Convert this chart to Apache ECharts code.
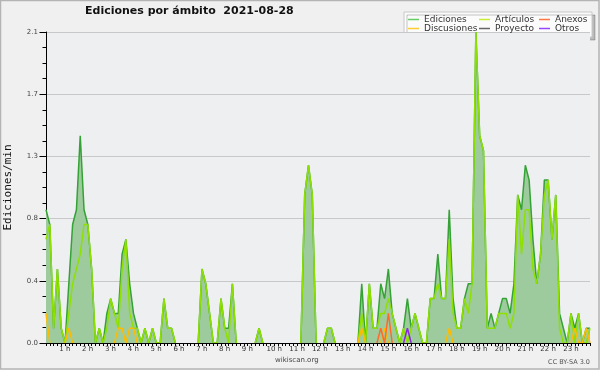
<!DOCTYPE html>
<html><head><meta charset="utf-8">
<script src="https://cdn.jsdelivr.net/npm/echarts@6/dist/echarts.min.js"></script>
<style>html,body{margin:0;padding:0;background:#f0f0f0}#c{width:600px;height:370px}</style>
</head><body><div id="c"></div>
<script>
const chartTitle = 'Ediciones por ámbito  2021-08-28';
const hourTicks = ['0 h','1 h','2 h','3 h','4 h','5 h','6 h','7 h','8 h','9 h','10 h','11 h','12 h','13 h','14 h','15 h','16 h','17 h','18 h','19 h','20 h','21 h','22 h','23 h'];
const slotTimes = [];
for (let h = 0; h < 24; h++) { for (let m = 0; m < 60; m += 10) { slotTimes.push(h + ':' + (m < 10 ? '0' + m : m)); } }

// one value per 10 minutes, edits per minute
const ediciones = [
 0.9,0.8,0.1,0.5,0.1,0,
 0.4,0.8,0.9,1.4,0.9,0.8,
 0.5,0,0.1,0,0.2,0.3,
 0.2,0.2,0.6,0.7,0.4,0.2,
 0.1,0,0.1,0,0.1,0,
 0,0.3,0.1,0.1,0,0,
 0,0,0,0,0,0.5,
 0.4,0.2,0,0,0.3,0.1,
 0.1,0.4,0,0,0,0,
 0,0,0.1,0,0,0,
 0,0,0,0,0,0,
 0,0,1.0,1.2,1.0,0,
 0,0,0.1,0.1,0,0,
 0,0,0,0,0,0.4,
 0,0.4,0.1,0.1,0.4,0.3,
 0.5,0.2,0.1,0,0.1,0.3,
 0.1,0.2,0.1,0,0,0.3,
 0.3,0.6,0.3,0.3,0.9,0.3,
 0.1,0.1,0.3,0.4,0.4,2.1,
 1.4,1.3,0.1,0.2,0.1,0.2,
 0.3,0.3,0.2,0.4,1.0,0.9,
 1.2,1.1,0.7,0.4,0.6,1.1,
 1.1,0.7,1.0,0.2,0.1,0,
 0.2,0.1,0.2,0,0.1,0.1
];
const articulos = [
 0.7,0.8,0.1,0.5,0.1,0,
 0.2,0.4,0.5,0.6,0.8,0.8,
 0.5,0,0.1,0,0.1,0.3,
 0.2,0.1,0.5,0.7,0.2,0.1,
 0.1,0,0.1,0,0.1,0,
 0,0.3,0.1,0.1,0,0,
 0,0,0,0,0,0.5,
 0.4,0.2,0,0,0.3,0.1,
 0,0.4,0,0,0,0,
 0,0,0.1,0,0,0,
 0,0,0,0,0,0,
 0,0,1.0,1.2,1.0,0,
 0,0,0.1,0.1,0,0,
 0,0,0,0,0,0.2,
 0,0.4,0.1,0.1,0.2,0.2,
 0.3,0.2,0.1,0,0.1,0,
 0.1,0.2,0.1,0,0,0.3,
 0.3,0.4,0.3,0.3,0.7,0.2,
 0.1,0.1,0.3,0.2,0.4,2.1,
 1.4,1.3,0.1,0.1,0.1,0.2,
 0.2,0.2,0.1,0.2,1.0,0.6,
 0.9,0.9,0.5,0.4,0.6,1.0,
 1.1,0.7,1.0,0.1,0,0,
 0.2,0,0.2,0,0,0.1
];
const discusiones = [
 0.2,0,0,0,0,0,
 0.1,0,0,0,0,0,
 0,0,0,0,0,0,
 0,0.1,0.1,0,0.1,0.1,
 0,0,0,0,0,0,
 0,0,0,0,0,0,
 0,0,0,0,0,0,
 0,0,0,0,0,0,
 0,0,0,0,0,0,
 0,0,0,0,0,0,
 0,0,0,0,0,0,
 0,0,0,0,0,0,
 0,0,0,0,0,0,
 0,0,0,0,0,0.1,
 0,0,0,0,0,0.1,
 0,0,0,0,0,0,
 0,0,0,0,0,0,
 0,0,0,0,0.1,0,
 0,0,0,0,0,0,
 0,0,0,0,0,0,
 0,0,0,0,0,0,
 0,0,0,0,0,0,
 0,0,0,0,0,0,
 0,0.1,0,0,0.1,0
];
const anexos = [
 0,0,0,0,0,0, 0,0,0,0,0,0, 0,0,0,0,0,0, 0,0,0,0,0,0,
 0,0,0,0,0,0, 0,0,0,0,0,0, 0,0,0,0,0,0, 0,0,0,0,0,0,
 0,0,0,0,0,0, 0,0,0,0,0,0, 0,0,0,0,0,0, 0,0,0,0,0,0,
 0,0,0,0,0,0, 0,0,0,0,0,0,
 0,0,0,0,0.1,0,
 0.2,0,0,0,0,0,
 0,0,0,0,0,0, 0,0,0,0,0,0, 0,0,0,0,0,0, 0,0,0,0,0,0,
 0,0,0,0,0,0, 0,0,0,0,0,0, 0,0,0,0,0,0, 0,0,0,0,0,0
];
const proyecto = [
 0,0,0,0,0,0, 0,0,0,0,0,0, 0,0,0,0,0,0, 0,0,0,0,0,0,
 0,0,0,0,0,0, 0,0,0,0,0,0, 0,0,0,0,0,0, 0,0,0,0,0,0,
 0,0,0,0,0,0, 0,0,0,0,0,0, 0,0,0,0,0,0, 0,0,0,0,0,0,
 0,0,0,0,0,0, 0,0,0,0,0,0, 0,0,0,0,0,0, 0,0,0,0,0,0,
 0,0,0,0,0,0, 0,0,0,0,0,0, 0,0,0,0,0,0, 0,0,0,0,0,0,
 0,0,0,0,0,0, 0,0,0,0,0,0, 0,0,0,0,0,0, 0,0,0,0,0,0
];
const otros = [
 0,0,0,0,0,0, 0,0,0,0,0,0, 0,0,0,0,0,0, 0,0,0,0,0,0,
 0,0,0,0,0,0, 0,0,0,0,0,0, 0,0,0,0,0,0, 0,0,0,0,0,0,
 0,0,0,0,0,0, 0,0,0,0,0,0, 0,0,0,0,0,0, 0,0,0,0,0,0,
 0,0,0,0,0,0, 0,0,0,0,0,0, 0,0,0,0,0,0,
 0,0,0,0,0,0.1,
 0,0,0,0,0,0, 0,0,0,0,0,0, 0,0,0,0,0,0, 0,0,0,0,0,0,
 0,0,0,0,0,0, 0,0,0,0,0,0
];

// zero stretches lie on the x axis; leave them out of the drawn path
function forDrawing(values) {
  return values.map(function (v, i) {
    const prev = i > 0 ? values[i - 1] : 0;
    const next = i < values.length - 1 ? values[i + 1] : 0;
    return (v === 0 && prev === 0 && next === 0) ? null : v;
  });
}

function lineSeries(name, data, lineColor, legendColor, extra) {
  return Object.assign({
    name: name, type: 'line', data: forDrawing(data), showSymbol: false, symbol: 'none',
    connectNulls: false,
    lineStyle: { color: lineColor, width: 1.5 }, itemStyle: { color: legendColor },
    animation: false
  }, extra || {});
}

const legendText = { fontFamily: 'DejaVu Sans', fontSize: 9, color: '#333', lineHeight: 9 };
function legendCol(left, names) {
  return { orient: 'vertical', left: left, top: 15, padding: 0, itemGap: 0, itemWidth: 11, itemHeight: 1.5,
    icon: 'rect', selectedMode: false, textStyle: legendText, data: names };
}

const chart = echarts.init(document.getElementById('c'), null, { renderer: 'canvas', width: 600, height: 370 });
chart.setOption({
  animation: false,
  backgroundColor: '#f0f0f0',
  textStyle: { fontFamily: 'DejaVu Sans' },
  title: { text: chartTitle, left: 85, top: 6, padding: 0,
    textStyle: { fontFamily: 'DejaVu Sans', fontWeight: 'bold', fontSize: 11, color: '#111' } },
  legend: [
    legendCol(408, ['Ediciones', 'Discusiones']),
    legendCol(479, ['Artículos', 'Proyecto']),
    legendCol(539, ['Anexos', 'Otros'])
  ],
  grid: { left: 46, right: 10, top: 32, bottom: 27, show: true, backgroundColor: '#edeff1', borderWidth: 0,
    containLabel: false, outerBoundsMode: 'none' },
  xAxis: {
    type: 'category', data: slotTimes, boundaryGap: false, z: 5,
    axisLine: { lineStyle: { color: '#000', width: 1 } },
    axisTick: { interval: 0, length: 3, lineStyle: { color: '#000' } },
    axisLabel: {
      interval: function (idx) { return idx > 0 && idx % 6 === 0; },
      margin: 3, fontSize: 7, color: '#333',
      formatter: function (v, idx) {
        const t = hourTicks[Math.floor(idx / 6)];
        return t.length < 4 ? '{s|' + t + '}' : '{d|' + t + '}';
      },
      rich: {
        s: { fontSize: 7, fontFamily: 'DejaVu Sans', color: '#333', padding: [0, 8, 0, 0] },
        d: { fontSize: 7, fontFamily: 'DejaVu Sans', color: '#333' }
      }
    },
    splitLine: { show: false }
  },
  yAxis: {
    type: 'value', min: 0, max: 2.1, interval: 0.42,
    name: 'Ediciones/min', nameLocation: 'middle', nameGap: 32,
    nameTextStyle: { fontFamily: 'DejaVu Sans Mono', fontSize: 11, color: '#111' },
    axisLine: { show: true, lineStyle: { color: '#000' } },
    axisTick: { show: true, length: 6.5, lineStyle: { color: '#000' } },
    minorTick: { show: true, splitNumber: 4, length: 3.5, lineStyle: { color: '#000' } },
    axisLabel: { fontSize: 7, color: '#444', margin: 8,
      formatter: function (v) { return v.toFixed(1); } },
    splitLine: { lineStyle: { color: '#c8c8c8', width: 1 } }
  },
  series: [
    lineSeries('Ediciones', ediciones, '#34a234', '#66cc66', { areaStyle: { color: '#9dcb9d', opacity: 1 } }),
    lineSeries('Proyecto', proyecto, '#666666', '#666666'),
    lineSeries('Artículos', articulos, '#8ee000', '#c6ee33'),
    lineSeries('Discusiones', discusiones, '#ffbb00', '#ffcc33'),
    lineSeries('Anexos', anexos, '#ff6a2a', '#ff7744'),
    lineSeries('Otros', otros, '#8a2be2', '#9944ff')
  ],
  graphic: [
    { type: 'rect', z: -1, silent: true, shape: { x: 404, y: 12, width: 188, height: 25 },
      style: { fill: '#fbfbfb', stroke: '#c8c8c8', lineWidth: 1, shadowColor: 'rgba(0,0,0,0.22)', shadowOffsetX: 3, shadowOffsetY: 3, shadowBlur: 0 } },
    { type: 'text', silent: true, left: 275, top: 357,
      style: { text: 'wikiscan.org', fontFamily: 'DejaVu Sans', fontSize: 7, fill: '#444' } },
    { type: 'text', silent: true, right: 10, top: 359,
      style: { text: 'CC BY-SA 3.0', fontFamily: 'DejaVu Sans', fontSize: 6.5, fill: '#555' } },
    { type: 'rect', silent: true, z: 100, shape: { x: 0.5, y: 0.5, width: 598.5, height: 368.5 },
      style: { fill: 'none', stroke: '#b4b4b4', lineWidth: 1.5 } }
  ]
});
</script></body></html>
